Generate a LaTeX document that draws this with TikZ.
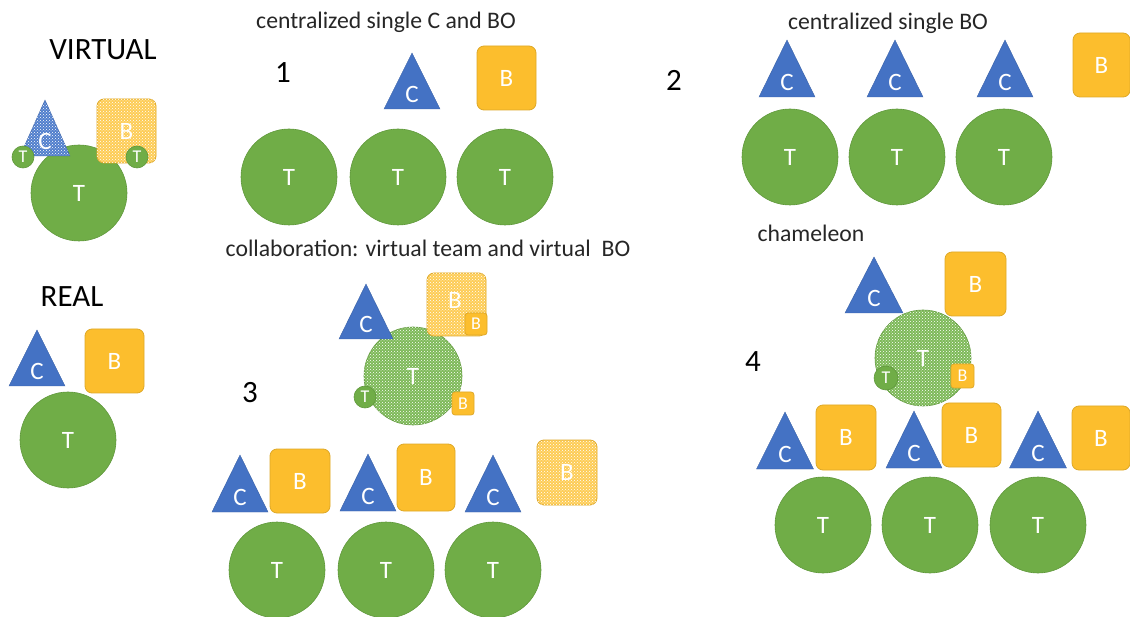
\documentclass[tikz,border=0pt]{standalone}
\usepackage{fontspec}
\setmainfont{Carlito}
\usetikzlibrary{patterns}
\definecolor{tgreen}{RGB}{112,173,71}
\definecolor{tgreenb}{RGB}{96,152,60}
\definecolor{tgreenl}{RGB}{125,185,88}
\definecolor{cblue}{RGB}{68,114,196}
\definecolor{cbluel}{RGB}{80,126,204}
\definecolor{byel}{RGB}{252,190,45}
\definecolor{byelb}{RGB}{222,168,40}
\definecolor{byell}{RGB}{253,204,85}
\tikzset{
  lbl/.style={text=white, font=\fontsize{25}{27}\selectfont, inner sep=0pt},
  slbl/.style={text=white, font=\fontsize{18}{20}\selectfont, inner sep=0pt},
  ttl/.style={text=black!85, font=\fontsize{23.7}{26}\selectfont, inner sep=0pt},
  big/.style={text=black, font=\fontsize{31}{33}\selectfont, inner sep=0pt},
  tcirc/.style={fill=tgreen, draw=tgreenb, line width=0.6pt},
  ctri/.style={fill=cblue, draw=cblue!85!black, line width=0.4pt, line join=miter},
  bsq/.style={fill=byel, draw=byelb, line width=0.8pt, rounded corners=7pt},
  vdots/.style={postaction={pattern=crosshatch dots, pattern color=white}},
  vgreen/.style={fill=tgreenl, vdots},
  vblue/.style={fill=cbluel, vdots},
  vyel/.style={fill=byell, vdots}
}
% circle: name, x, y, r, style, label style
\newcommand\Tc[6]{%
  \draw[tcirc,#5] (#2,#3) circle[radius=#4];
  \node[#6] (#1) at (#2,#3) {T};}
% triangle: name, base-centre x, base y, width, height, style
\newcommand\Ct[6]{%
  \draw[ctri,#6] ({#2-#4/2},#3) -- (#2,{#3-#5}) -- ({#2+#4/2},#3) -- cycle;
  \node[lbl] (#1) at (#2,{#3-15}) {C};}
% box: name, x1, y1, x2, y2, style, label style
\newcommand\Bs[7]{%
  \draw[bsq,#6] (#2,#3) rectangle (#4,#5);
  \node[#7] (#1) at ({(#2+#4)/2},{(#3+#5)/2}) {B};}
\begin{document}
\begin{tikzpicture}[x=1pt,y=-1pt]
\useasboundingbox (0,0) rectangle (1130,617);

% ---------- VIRTUAL ----------
\node[big] (virtual) at (103,50) {VIRTUAL};
\Tc{vT}{79}{193}{48}{}{lbl}
\Ct{vC}{45}{156}{50}{56}{vblue}
\Bs{vB}{97}{99}{156}{163}{vyel}{lbl}
\Tc{vTa}{23}{157}{11}{}{slbl}
\Tc{vTb}{137}{157}{11}{}{slbl}

% ---------- REAL ----------
\node[big] (real) at (72,297) {REAL};
\Ct{rC}{37}{386}{56}{56}{}
\Bs{rB}{85}{329}{144}{393}{}{lbl}
\Tc{rT}{68}{440}{48}{}{lbl}

% ---------- 1 ----------
\node[ttl] (t1) at (386,22) {centralized single C and BO};
\node[big] (n1) at (283,73) {1};
\Ct{aC}{412}{109}{56}{56}{}
\Bs{aB}{477}{46}{536}{110}{}{lbl}
\Tc{aT1}{289}{177}{48}{}{lbl}
\Tc{aT2}{398}{177}{48}{}{lbl}
\Tc{aT3}{505}{177}{48}{}{lbl}

% ---------- 2 ----------
\node[ttl] (t2) at (888,23) {centralized single BO};
\node[big] (n2) at (674,80) {2};
\Ct{bC1}{787}{97}{56}{57}{}
\Ct{bC2}{895}{97}{56}{57}{}
\Ct{bC3}{1005}{97}{56}{57}{}
\Bs{bB}{1073}{33}{1130}{97}{}{lbl}
\Tc{bT1}{790}{157}{48}{}{lbl}
\Tc{bT2}{897}{157}{48}{}{lbl}
\Tc{bT3}{1004}{157}{48}{}{lbl}

% ---------- 3 ----------
\node[ttl] (t3) at (428,248) {collaboration: virtual team and virtual~~BO};
\node[big] (n3) at (250,393) {3};
\Tc{cT}{413}{376}{49}{vgreen}{lbl}
\Ct{cC}{366}{339}{54}{55}{}
\draw[bsq,vyel] (427,273) rectangle (486,336);
\node[lbl] (cB) at (455,300) {B};
\Bs{cBs}{465}{313}{487}{335}{rounded corners=3pt}{slbl}
\Tc{cTs}{365}{397}{11}{}{slbl}
\Bs{cBt}{452}{392}{474}{415}{rounded corners=3pt}{slbl}

\Ct{cC1}{240}{512}{56}{57}{}
\Bs{cB1}{270}{449}{330}{513}{}{lbl}
\Ct{cC2}{368}{511}{56}{57}{}
\Bs{cB2}{397}{444}{455}{511}{}{lbl}
\Ct{cC3}{493}{512}{56}{57}{}
\Bs{cB3}{537}{440}{597}{505}{vyel}{lbl}
\Tc{cT1}{277}{570}{48}{}{lbl}
\Tc{cT2}{386}{570}{48}{}{lbl}
\Tc{cT3}{493}{570}{48}{}{lbl}

% ---------- 4 ----------
\node[ttl] (t4) at (811,233) {chameleon};
\node[big] (n4) at (753,362) {4};
\Ct{dC}{874}{313}{58}{56}{}
\Bs{dB}{945}{252}{1006}{316}{}{lbl}
\Tc{dT}{923}{358}{48}{vgreen}{lbl}
\Tc{dTs}{886}{378}{12}{}{slbl}
\Bs{dBs}{951}{364}{974}{388}{rounded corners=3pt}{slbl}

\Ct{dC1}{785}{469}{57}{57}{}
\Bs{dB1}{816}{405}{876}{470}{}{lbl}
\Ct{dC2}{914}{468}{56}{57}{}
\Bs{dB2}{942}{403}{1001}{467}{}{lbl}
\Ct{dC3}{1038}{468}{57}{57}{}
\Bs{dB3}{1072}{406}{1130}{470}{}{lbl}
\Tc{dT1}{823}{525}{48}{}{lbl}
\Tc{dT2}{930}{525}{48}{}{lbl}
\Tc{dT3}{1038}{525}{48}{}{lbl}
\end{tikzpicture}
\end{document}
